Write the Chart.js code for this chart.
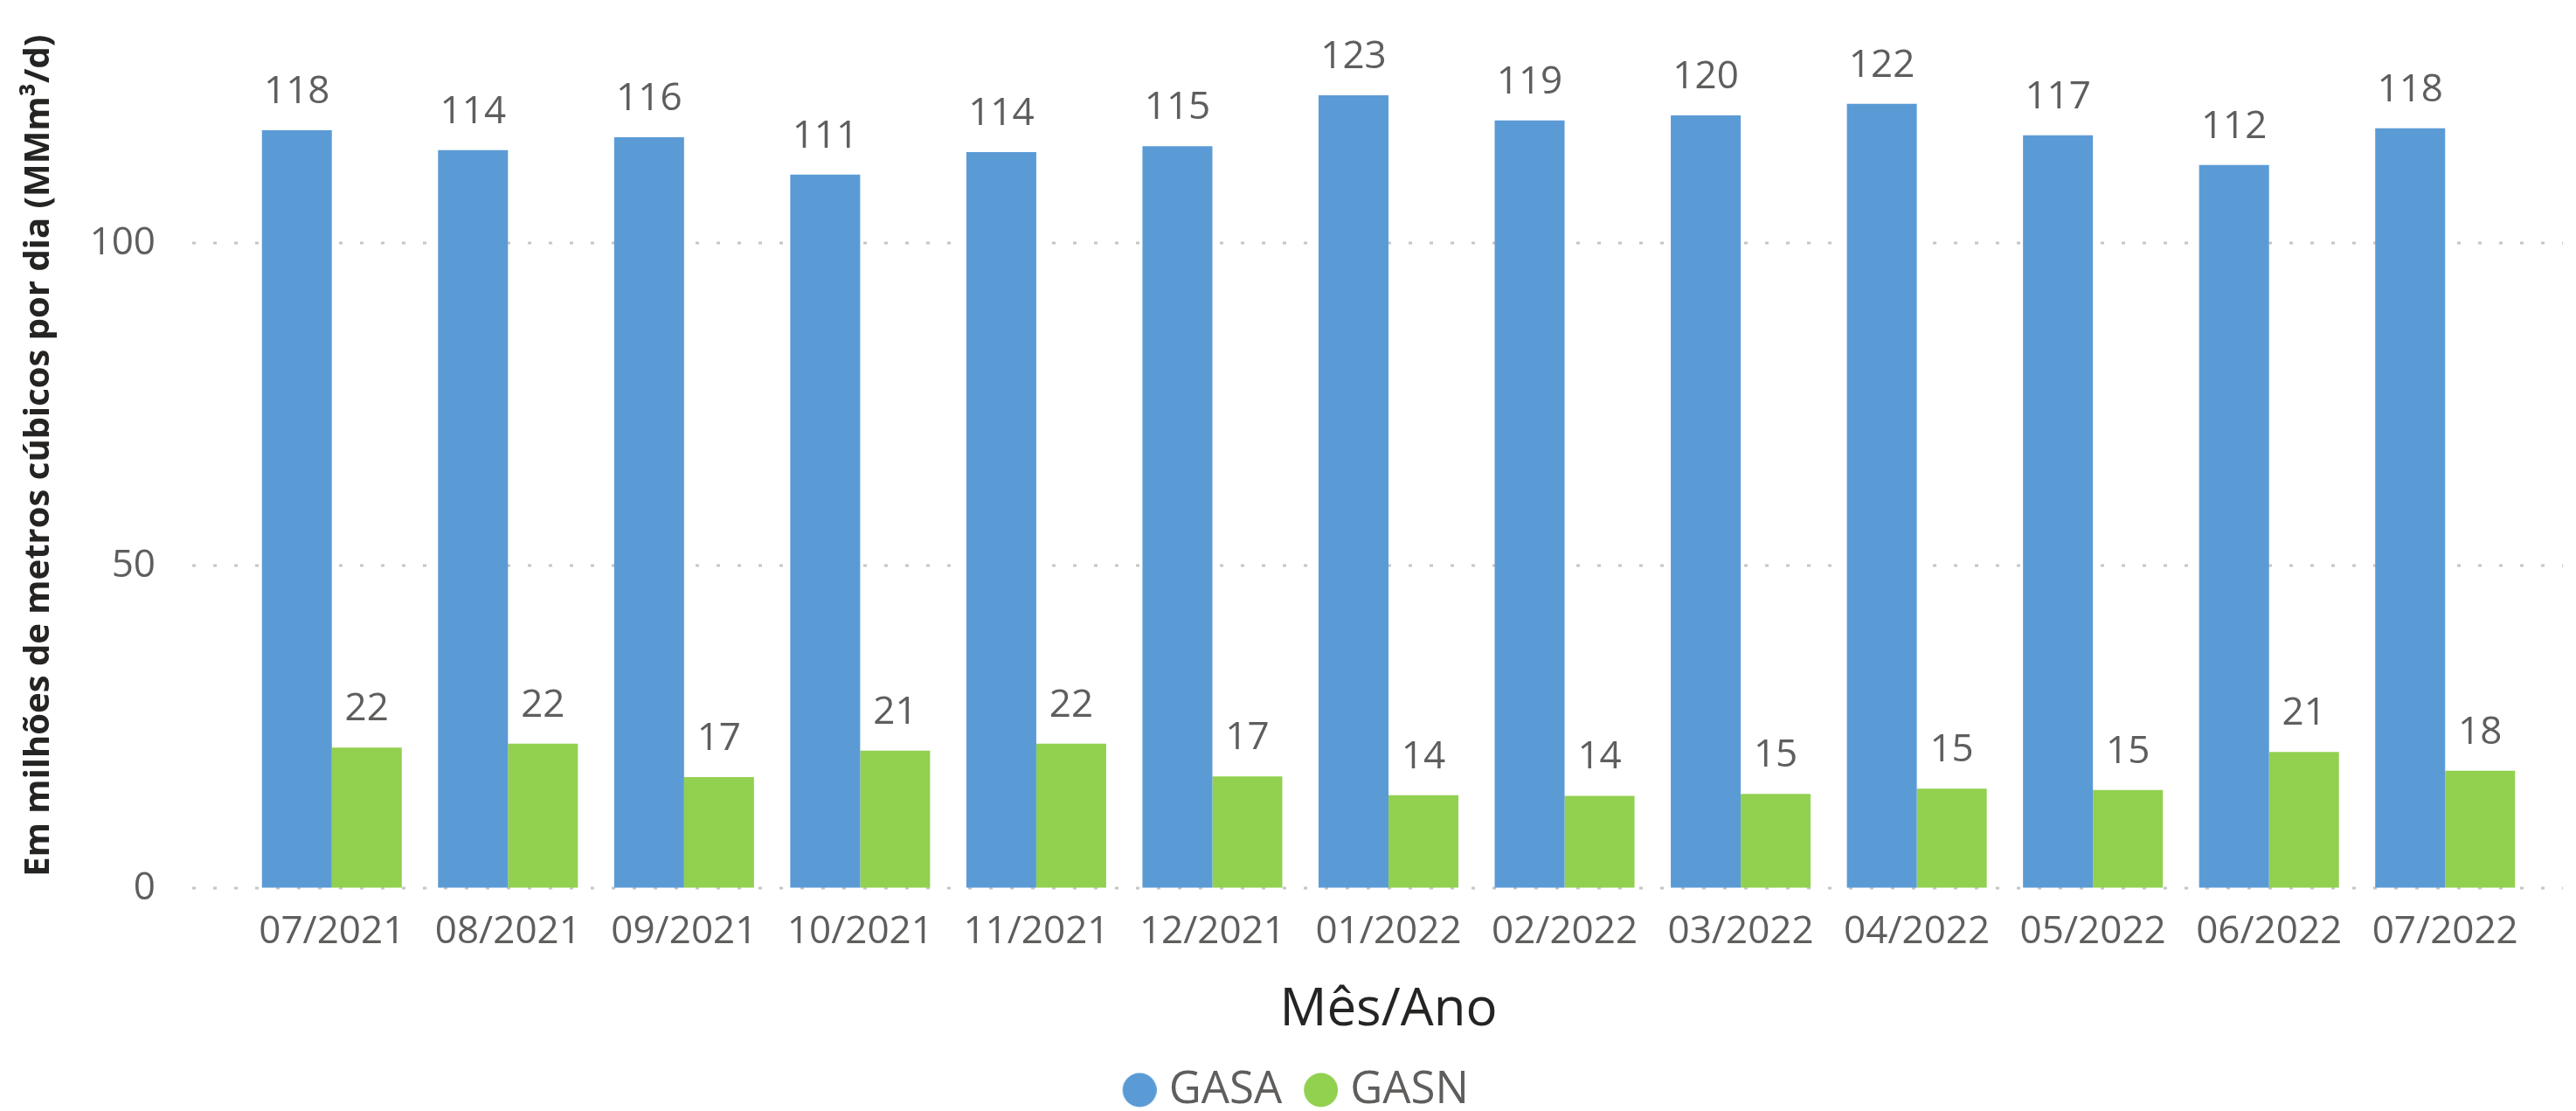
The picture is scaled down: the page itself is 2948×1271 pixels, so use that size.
<!DOCTYPE html>
<html>
<head>
<meta charset="utf-8">
<script src="https://cdn.jsdelivr.net/npm/chart.js@4.4.1/dist/chart.umd.min.js"></script>
<style>
  html, body { margin: 0; padding: 0; background: #fff; }
</style>
</head>
<body>
<canvas id="myChart" width="2948" height="1271"></canvas>
<script>
// dados
const categories = ["07/2021", "08/2021", "09/2021", "10/2021", "11/2021", "12/2021", "01/2022",
  "02/2022", "03/2022", "04/2022", "05/2022", "06/2022", "07/2022"];
const gasa = [117.5, 114.4, 116.4, 110.6, 114.1, 115.0, 122.9, 119.0, 119.8, 121.6, 116.7, 112.1, 117.8];
const gasn = [21.8, 22.4, 17.2, 21.3, 22.4, 17.3, 14.4, 14.3, 14.6, 15.4, 15.2, 21.1, 18.2];
const yTicks = [0, 50, 100];

const FONT = "'Open Sans', 'Segoe UI', sans-serif";
const GREY = "#605E5C";
const DARK = "#252423";

// bolinha da legenda, desenhada num canvas pequeno (fica colada no texto)
function legendDot(color) {
  const c = document.createElement("canvas");
  c.width = 63;
  c.height = 40;
  const g = c.getContext("2d");
  g.fillStyle = color;
  g.beginPath();
  g.arc(43.5, 20, 19.5, 0, Math.PI * 2);
  g.fill();
  return c;
}

// linhas pontilhadas do grid (passam um pouco além da área das barras)
const dottedGrid = {
  id: "dottedGrid",
  beforeDatasetsDraw(chart) {
    const { ctx, chartArea, scales } = chart;
    ctx.save();
    ctx.strokeStyle = "#C8C6C4";
    ctx.lineWidth = 3;
    ctx.setLineDash([4, 20]);
    yTicks.forEach((v) => {
      const py = Math.round(scales.y.getPixelForValue(v));
      ctx.beginPath();
      ctx.moveTo(chartArea.left - 59, py);
      ctx.lineTo(chartArea.right + 34, py);
      ctx.stroke();
    });
    ctx.restore();
  },
};

// rótulos de valor em cima das barras
const valueLabels = {
  id: "valueLabels",
  afterDatasetsDraw(chart) {
    const { ctx } = chart;
    ctx.save();
    ctx.font = "44px " + FONT;
    ctx.fillStyle = GREY;
    ctx.textAlign = "center";
    ctx.textBaseline = "alphabetic";
    chart.data.datasets.forEach((ds, i) => {
      chart.getDatasetMeta(i).data.forEach((bar, j) => {
        ctx.fillText(Math.round(ds.data[j]), bar.x, bar.y - 31);
      });
    });
    ctx.restore();
  },
};

// legenda um pouco mais para a direita, como no original
const legendShift = {
  id: "legendShift",
  afterLayout(chart) {
    if (chart.legend) {
      chart.legend.left += 27;
      chart.legend.right += 27;
    }
  },
};

const ctx = document.getElementById("myChart").getContext("2d");
new Chart(ctx, {
  type: "bar",
  data: {
    labels: categories,
    datasets: [
      { label: "GASA", data: gasa, backgroundColor: "#5B9BD5" },
      { label: "GASN", data: gasn, backgroundColor: "#92D050" },
    ],
  },
  options: {
    responsive: false,
    animation: false,
    devicePixelRatio: 1,
    datasets: {
      bar: { categoryPercentage: 0.794, barPercentage: 1.0, borderWidth: 0 },
    },
    layout: { padding: { top: 23, right: 49, bottom: -11.5, left: 0 } },
    scales: {
      x: {
        grid: { display: false, drawTicks: false },
        border: { display: false },
        ticks: { padding: 24, color: GREY, font: { family: FONT, size: 44 }, maxRotation: 0, autoSkip: false },
        title: { display: true, text: "Mês/Ano", color: DARK, font: { family: FONT, size: 60 }, padding: { top: 4, bottom: 17 } },
        afterFit: (s) => { s.height = 193; },
      },
      y: {
        min: 0,
        max: 134.1,
        afterBuildTicks: (s) => { s.ticks = yTicks.map((v) => ({ value: v })); },
        afterFit: (s) => { s.width = 279; },
        // linhas invisíveis, só para afastar os rótulos do eixo
        grid: { color: "rgba(0,0,0,0)", drawTicks: true, tickLength: 101 },
        border: { display: false },
        ticks: { padding: 0, color: GREY, font: { family: FONT, size: 44 } },
        title: {
          display: true,
          text: "Em milhões de metros cúbicos por dia (MMm³/d)",
          color: DARK,
          font: { family: FONT, size: 40, weight: "bold" },
          padding: { top: 21, bottom: 0 },
        },
      },
    },
    plugins: {
      legend: {
        position: "bottom",
        labels: {
          usePointStyle: true,
          pointStyleWidth: 40,
          boxHeight: 40,
          padding: 12.5,
          color: GREY,
          font: { family: FONT, size: 51 },
          generateLabels(chart) {
            const items = Chart.defaults.plugins.legend.labels.generateLabels(chart);
            items.forEach((it, i) => {
              it.pointStyle = legendDot(chart.data.datasets[i].backgroundColor);
            });
            return items;
          },
        },
      },
      tooltip: { enabled: false },
    },
  },
  plugins: [dottedGrid, valueLabels, legendShift],
});
</script>
</body>
</html>
